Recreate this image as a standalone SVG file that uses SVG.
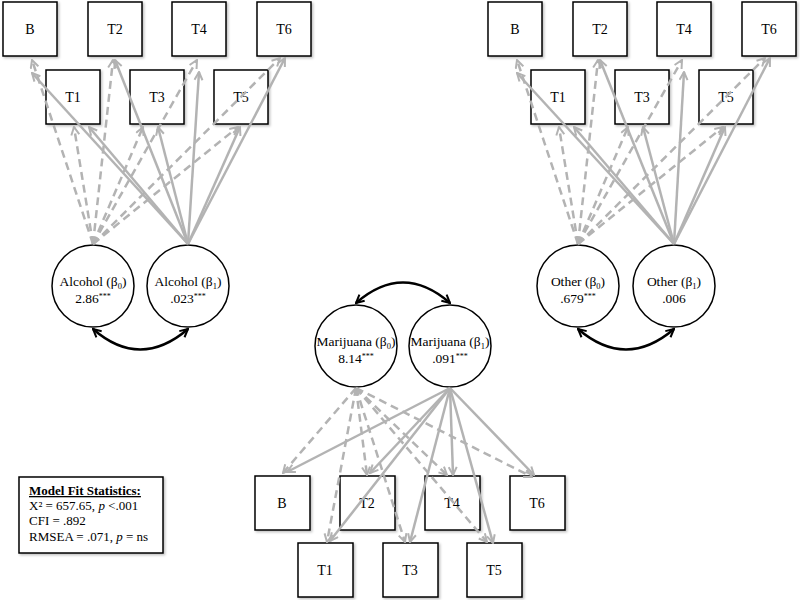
<svg xmlns="http://www.w3.org/2000/svg" width="800" height="600" viewBox="0 0 800 600">
<style>
.box{fill:#fff;stroke:#000;stroke-width:1.5}
.circ{fill:#fff;stroke:#000;stroke-width:1.5}
.lbl{font-family:"Liberation Serif","Times New Roman",serif;font-size:14px;fill:#000;text-anchor:middle}
.clbl{font-family:"Liberation Serif","Times New Roman",serif;font-size:13.5px;fill:#000;text-anchor:middle}
.sub{font-size:8.5px}
.sup{font-size:8px}
.fit{font-family:"Liberation Serif","Times New Roman",serif;font-size:13px;fill:#000}
.sol{stroke:#b3b3b3;stroke-width:2.5;fill:none;marker-end:url(#ag)}
.das{stroke:#b3b3b3;stroke-width:2.5;fill:none;stroke-dasharray:8 5;marker-end:url(#ag)}
.cov{stroke:#000;stroke-width:2.5;fill:none;marker-start:url(#ab);marker-end:url(#ab)}
</style>
<defs>
<marker id="ag" viewBox="0 0 10 10" refX="9" refY="5" markerWidth="10" markerHeight="10" markerUnits="userSpaceOnUse" orient="auto">
<path d="M1,1 L9,5 L1,9" fill="none" stroke="#b3b3b3" stroke-width="2"/>
</marker>
<marker id="ab" viewBox="0 0 10 10" refX="9" refY="5" markerWidth="10" markerHeight="10" markerUnits="userSpaceOnUse" orient="auto-start-reverse">
<path d="M1,1 L9,5 L1,9" fill="none" stroke="#000" stroke-width="2"/>
</marker>
<filter id="sh" x="-10%" y="-10%" width="130%" height="130%">
<feDropShadow dx="1.5" dy="1.5" stdDeviation="1" flood-color="#000" flood-opacity="0.25"/>
</filter>
</defs>
<rect width="800" height="600" fill="#fff"/>

<!-- Left cluster nodes -->
<g id="L-B"><rect class="box" x="3" y="2" width="54" height="54" filter="url(#sh)"/><text class="lbl" x="30" y="34">B</text></g>
<g id="L-T2"><rect class="box" x="88" y="2" width="54" height="54" filter="url(#sh)"/><text class="lbl" x="115" y="34">T2</text></g>
<g id="L-T4"><rect class="box" x="172" y="2" width="54" height="54" filter="url(#sh)"/><text class="lbl" x="199" y="34">T4</text></g>
<g id="L-T6"><rect class="box" x="257" y="2" width="54" height="54" filter="url(#sh)"/><text class="lbl" x="284" y="34">T6</text></g>
<g id="L-T1"><rect class="box" x="46" y="70" width="54" height="54" filter="url(#sh)"/><text class="lbl" x="73" y="102">T1</text></g>
<g id="L-T3"><rect class="box" x="130" y="70" width="54" height="54" filter="url(#sh)"/><text class="lbl" x="157" y="102">T3</text></g>
<g id="L-T5"><rect class="box" x="214" y="70" width="54" height="54" filter="url(#sh)"/><text class="lbl" x="241" y="102">T5</text></g>
<g id="L-b0"><circle class="circ" cx="93" cy="286" r="41"/><text class="clbl" x="93" y="286">Alcohol (β<tspan class="sub" dy="3">0</tspan><tspan dy="-3">)</tspan></text><text class="clbl" x="93" y="303">2.86<tspan class="sup" dy="-4">***</tspan></text></g>
<g id="L-b1"><circle class="circ" cx="188" cy="286" r="41"/><text class="clbl" x="188" y="286">Alcohol (β<tspan class="sub" dy="3">1</tspan><tspan dy="-3">)</tspan></text><text class="clbl" x="188" y="303">.023<tspan class="sup" dy="-4">***</tspan></text></g>

<!-- Right cluster nodes -->
<g id="R-B"><rect class="box" x="488" y="2" width="54" height="54" filter="url(#sh)"/><text class="lbl" x="515" y="34">B</text></g>
<g id="R-T2"><rect class="box" x="573" y="2" width="54" height="54" filter="url(#sh)"/><text class="lbl" x="600" y="34">T2</text></g>
<g id="R-T4"><rect class="box" x="657" y="2" width="54" height="54" filter="url(#sh)"/><text class="lbl" x="684" y="34">T4</text></g>
<g id="R-T6"><rect class="box" x="742" y="2" width="54" height="54" filter="url(#sh)"/><text class="lbl" x="769" y="34">T6</text></g>
<g id="R-T1"><rect class="box" x="531" y="70" width="54" height="54" filter="url(#sh)"/><text class="lbl" x="558" y="102">T1</text></g>
<g id="R-T3"><rect class="box" x="615" y="70" width="54" height="54" filter="url(#sh)"/><text class="lbl" x="642" y="102">T3</text></g>
<g id="R-T5"><rect class="box" x="699" y="70" width="54" height="54" filter="url(#sh)"/><text class="lbl" x="726" y="102">T5</text></g>
<g id="R-b0"><circle class="circ" cx="578" cy="286" r="41"/><text class="clbl" x="578" y="286">Other (β<tspan class="sub" dy="3">0</tspan><tspan dy="-3">)</tspan></text><text class="clbl" x="578" y="303">.679<tspan class="sup" dy="-4">***</tspan></text></g>
<g id="R-b1"><circle class="circ" cx="674" cy="286" r="41"/><text class="clbl" x="674" y="286">Other (β<tspan class="sub" dy="3">1</tspan><tspan dy="-3">)</tspan></text><text class="clbl" x="674" y="303">.006</text></g>

<!-- Middle cluster nodes -->
<g id="M-b0"><circle class="circ" cx="356" cy="346" r="41"/><text class="clbl" x="356" y="346">Marijuana (β<tspan class="sub" dy="3">0</tspan><tspan dy="-3">)</tspan></text><text class="clbl" x="356" y="363">8.14<tspan class="sup" dy="-4">***</tspan></text></g>
<g id="M-b1"><circle class="circ" cx="450" cy="346" r="41"/><text class="clbl" x="450" y="346">Marijuana (β<tspan class="sub" dy="3">1</tspan><tspan dy="-3">)</tspan></text><text class="clbl" x="450" y="363">.091<tspan class="sup" dy="-4">***</tspan></text></g>
<g id="M-B"><rect class="box" x="255" y="476" width="55" height="54" filter="url(#sh)"/><text class="lbl" x="282" y="508">B</text></g>
<g id="M-T2"><rect class="box" x="340" y="476" width="55" height="54" filter="url(#sh)"/><text class="lbl" x="367" y="508">T2</text></g>
<g id="M-T4"><rect class="box" x="425" y="476" width="55" height="54" filter="url(#sh)"/><text class="lbl" x="452" y="508">T4</text></g>
<g id="M-T6"><rect class="box" x="510" y="476" width="55" height="54" filter="url(#sh)"/><text class="lbl" x="537" y="508">T6</text></g>
<g id="M-T1"><rect class="box" x="298" y="543" width="55" height="54" filter="url(#sh)"/><text class="lbl" x="325" y="575">T1</text></g>
<g id="M-T3"><rect class="box" x="383" y="543" width="55" height="54" filter="url(#sh)"/><text class="lbl" x="410" y="575">T3</text></g>
<g id="M-T5"><rect class="box" x="467" y="543" width="55" height="54" filter="url(#sh)"/><text class="lbl" x="494" y="575">T5</text></g>

<!-- Model fit -->
<g id="fit">
<rect x="19" y="477" width="144" height="76" fill="#fff" stroke="#000" stroke-width="1.5" filter="url(#sh)"/>
<text class="fit" x="29" y="495" font-weight="bold" text-decoration="underline">Model Fit Statistics:</text>
<text class="fit" x="29" y="510">X² = 657.65, <tspan font-style="italic">p</tspan> &lt;.001</text>
<text class="fit" x="29" y="525">CFI = .892</text>
<text class="fit" x="29" y="541">RMSEA = .071, <tspan font-style="italic">p</tspan> = ns</text>
</g>

<!-- Connectors -->
<g id="connectors">
<g id="left-conn">
<path class="das" d="M93,244 L32,60"/>
<path class="das" d="M93,244 L74,127"/>
<path class="das" d="M93,244 L113,60"/>
<path class="das" d="M93,244 L143,127"/>
<path class="das" d="M93,244 L197,60"/>
<path class="das" d="M93,244 L238,127"/>
<path class="das" d="M93,244 L280,58"/>
<path class="sol" d="M188,244 L32,73"/>
<path class="sol" d="M188,244 L89,127"/>
<path class="sol" d="M188,244 L115,60"/>
<path class="sol" d="M188,244 L158,127"/>
<path class="sol" d="M188,244 L199,72"/>
<path class="sol" d="M188,244 L240,127"/>
<path class="sol" d="M188,244 L285,58"/>
<path class="cov" d="M93,329 Q140,370 188,329"/>
</g>
<g id="right-conn" transform="translate(485,0)">
<path class="das" d="M93,244 L32,60"/>
<path class="das" d="M93,244 L74,127"/>
<path class="das" d="M93,244 L113,60"/>
<path class="das" d="M93,244 L143,127"/>
<path class="das" d="M93,244 L197,60"/>
<path class="das" d="M93,244 L238,127"/>
<path class="das" d="M93,244 L280,58"/>
<path class="sol" d="M189,244 L32,73"/>
<path class="sol" d="M189,244 L89,127"/>
<path class="sol" d="M189,244 L115,60"/>
<path class="sol" d="M189,244 L158,127"/>
<path class="sol" d="M189,244 L199,72"/>
<path class="sol" d="M189,244 L240,127"/>
<path class="sol" d="M189,244 L285,58"/>
<path class="cov" d="M93,329 Q141,370 189,329"/>
</g>
<g id="mid-conn">
<path class="das" d="M356,388 L283,473"/>
<path class="das" d="M356,388 L367,475"/>
<path class="das" d="M356,388 L447,475"/>
<path class="das" d="M356,388 L532,477"/>
<path class="das" d="M356,388 L327,542"/>
<path class="das" d="M356,388 L405,542"/>
<path class="das" d="M356,388 L487,542"/>
<path class="sol" d="M450,388 L287,472"/>
<path class="sol" d="M450,388 L370,473"/>
<path class="sol" d="M450,388 L453,475"/>
<path class="sol" d="M450,388 L534,475"/>
<path class="sol" d="M450,388 L330,541"/>
<path class="sol" d="M450,388 L410,542"/>
<path class="sol" d="M450,388 L493,543"/>
<path class="cov" d="M356,303 Q403,262 450,303"/>
</g>
</g>
</svg>
